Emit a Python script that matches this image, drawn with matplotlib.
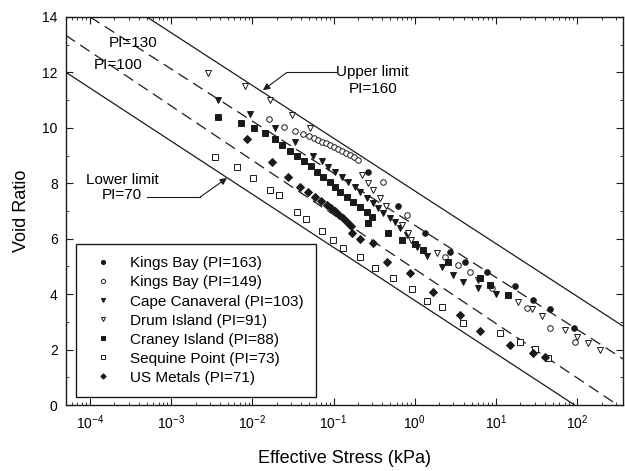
import numpy as np
import matplotlib
matplotlib.use("Agg")
import matplotlib.pyplot as plt
from matplotlib.ticker import (LogLocator, MultipleLocator, NullFormatter,
                               FixedLocator, LogFormatterSciNotation)

plt.rcParams['font.family'] = ['Liberation Sans', 'DejaVu Sans']
plt.rcParams['mathtext.fontset'] = 'custom'
plt.rcParams['mathtext.rm'] = 'Liberation Sans'
plt.rcParams['mathtext.it'] = 'Liberation Sans:italic'

# ---- data: log10(effective stress, kPa) and void ratio ----
kb163_logs = [-0.576, -0.207, 0.126, 0.433, 0.618, 0.889, 1.234, 1.456, 1.665, 1.960]
kb163_e = [8.40, 7.18, 6.20, 5.52, 5.16, 4.80, 4.29, 3.79, 3.46, 2.78]

kb149_logs = [-1.796, -1.611, -1.475, -1.377, -1.303, -1.241, -1.192, -1.143, -1.094,
              -1.044, -0.995, -0.946, -0.897, -0.847, -0.798, -0.749, -0.700, -0.392,
              -0.096, 0.372, 0.532, 0.680, 0.951, 1.382, 1.665, 1.973]
kb149_e = [10.31, 10.03, 9.88, 9.77, 9.70, 9.63, 9.56, 9.48, 9.45, 9.38, 9.30, 9.23,
           9.16, 9.09, 9.02, 8.94, 8.84, 8.04, 6.85, 5.34, 5.05, 4.80, 4.22, 3.50,
           2.78, 2.27]

cc_logs = [-2.424, -2.030, -1.722, -1.475, -1.254, -1.143, -1.069, -0.983, -0.897,
           -0.823, -0.737, -0.675, -0.589, -0.515, -0.453, -0.392, -0.305, -0.244,
           -0.182, -0.096, 0.027, 0.150, 0.335, 0.470, 0.593, 0.778, 1.000]
cc_e = [11.00, 10.49, 9.99, 9.48, 8.98, 8.80, 8.58, 8.40, 8.22, 8.04, 7.86, 7.68,
        7.46, 7.28, 7.10, 6.92, 6.74, 6.60, 6.38, 6.13, 5.70, 5.37, 4.98, 4.69, 4.44,
        4.22, 4.00]

di_logs = [-2.547, -2.091, -1.783, -1.512, -1.291, -0.650, -0.576, -0.515, -0.429,
           -0.355, -0.158, -0.084, -0.047, 0.273, 0.778, 1.271, 1.443, 1.566, 1.850,
           1.997, 2.133, 2.281]
di_e = [11.97, 11.50, 11.00, 10.46, 9.99, 8.29, 8.01, 7.75, 7.46, 7.18, 6.49, 6.20,
        5.95, 5.48, 4.51, 3.71, 3.46, 3.21, 2.70, 2.45, 2.24, 1.98]

ci_logs = [-2.424, -2.140, -1.980, -1.845, -1.722, -1.636, -1.537, -1.451, -1.365,
           -1.278, -1.204, -1.131, -1.044, -0.983, -0.921, -0.835, -0.761, -0.675,
           -0.589, -0.527, -0.576, -0.330, -0.158, 0.002, 0.101, 0.409, 0.803, 0.926,
           1.148]
ci_e = [10.39, 10.17, 9.99, 9.81, 9.59, 9.38, 9.16, 8.98, 8.80, 8.62, 8.40, 8.22,
        8.04, 7.86, 7.68, 7.50, 7.32, 7.14, 6.96, 6.78, 6.56, 6.20, 5.95, 5.81, 5.59,
        5.16, 4.58, 4.33, 3.97]

sp_logs = [-2.461, -2.190, -1.993, -1.783, -1.672, -1.451, -1.340, -1.143, -1.007,
           -0.884, -0.675, -0.490, -0.269, -0.035, 0.150, 0.335, 0.593, 1.049, 1.295,
           1.480, 1.640]
sp_e = [8.94, 8.58, 8.19, 7.75, 7.57, 6.96, 6.71, 6.27, 5.95, 5.66, 5.34, 4.94, 4.58,
        4.18, 3.75, 3.53, 2.96, 2.60, 2.27, 2.02, 1.69]

usm_logs = [-2.067, -1.759, -1.562, -1.414, -1.315, -1.229, -1.155, -1.081, -1.032,
            -0.983, -0.934, -0.884, -0.835, -0.786, -0.773, -0.675, -0.515, -0.342,
            -0.059, 0.224, 0.557, 0.803, 1.172, 1.456, 1.603]
usm_e = [9.59, 8.76, 8.22, 7.86, 7.68, 7.50, 7.36, 7.21, 7.10, 7.00, 6.85, 6.74, 6.60,
         6.46, 6.20, 5.99, 5.84, 5.16, 4.76, 4.07, 3.25, 2.67, 2.16, 1.88, 1.73]

# limit / PI lines: two end points each (log10 stress, void ratio)
upper_logs, upper_e = [-3.30, 2.59], [14.0, 2.80]      # PI=160
pi130_logs, pi130_e = [-4.00, 2.59], [14.0, 1.62]
pi100_logs, pi100_e = [-4.30, 2.50], [13.34, 0.0]
lower_logs, lower_e = [-4.30, 1.97], [12.01, 0.0]      # PI=70

labels = ["Kings Bay (PI=163)", "Kings Bay (PI=149)", "Cape Canaveral (PI=103)",
          "Drum Island (PI=91)", "Craney Island (PI=88)", "Sequine Point (PI=73)",
          "US Metals (PI=71)"]

x_decades = [1e-4, 1e-3, 1e-2, 1e-1, 1e0, 1e1, 1e2]

def s(v):
    return 10.0 ** np.asarray(v)

ink = '#1a1a1a'
fig = plt.figure(figsize=(6.25, 4.71), dpi=100)
ax = fig.add_axes([0.1056, 0.140, 0.891, 0.824])

lw_l = 0.9
ax.plot(s(upper_logs), upper_e, '-', color=ink, lw=lw_l)
ax.plot(s(pi130_logs), pi130_e, '--', color=ink, lw=lw_l, dashes=(9, 5))
ax.plot(s(pi100_logs), pi100_e, '--', color=ink, lw=lw_l, dashes=(9, 5))
ax.plot(s(lower_logs), lower_e, '-', color=ink, lw=lw_l)

ms = 4.0
series = [
    (kb163_logs, kb163_e, 'o', True),
    (kb149_logs, kb149_e, 'o', False),
    (cc_logs, cc_e, 'v', True),
    (di_logs, di_e, 'v', False),
    (ci_logs, ci_e, 's', True),
    (sp_logs, sp_e, 's', False),
    (usm_logs, usm_e, 'D', True),
]
for (xl, yv, mk, filled), lab in zip(series, labels):
    ax.plot(s(xl), yv, linestyle='none', marker=mk,
            markersize=ms if mk != 'D' else 3.6,
            markerfacecolor=ink if filled else 'white',
            markeredgecolor=ink, markeredgewidth=0.7, label=lab)

ax.set_xscale('log')
ax.set_xlim(5.06e-5, 366)
ax.set_ylim(0, 14)
ax.yaxis.set_major_locator(MultipleLocator(2))
ax.yaxis.set_minor_locator(MultipleLocator(1))
ax.xaxis.set_major_locator(FixedLocator(x_decades))
ax.xaxis.set_major_formatter(LogFormatterSciNotation())
ax.xaxis.set_minor_locator(LogLocator(base=10, subs=np.arange(2, 10), numticks=20))
ax.xaxis.set_minor_formatter(NullFormatter())
ax.tick_params(which='both', direction='in', top=True, right=True, color=ink)
ax.tick_params(which='major', length=5, width=0.8, labelsize=10, pad=6)
ax.tick_params(which='minor', length=2.5, width=0.6)
for sp in ax.spines.values():
    sp.set_linewidth(1.0)
    sp.set_color(ink)

ax.set_xlabel("Effective Stress (kPa)", fontsize=13, labelpad=13)
ax.set_ylabel("Void Ratio", fontsize=13, labelpad=9)

# annotations
fs_a = 11
ax.text(s(-3.47), 13.05, "PI=130", fontsize=fs_a, ha='center', va='center')
ax.text(s(-3.655), 12.26, "PI=100", fontsize=fs_a, ha='center', va='center')
ax.text(s(-3.606), 8.11, "Lower limit", fontsize=fs_a, ha='center', va='center')
ax.text(s(-3.606), 7.57, "PI=70", fontsize=fs_a, ha='center', va='center')
ax.plot(s([-3.30, -2.645]), [7.50, 7.50], color=ink, lw=0.8)
ax.annotate("", xy=(s(-2.313), 8.19), xytext=(s(-2.645), 7.50),
            arrowprops=dict(arrowstyle='-|>', color=ink, lw=0.8,
                            mutation_scale=10, shrinkA=0, shrinkB=0))
ax.text(s(-0.97), 12.0, "Upper limit", fontsize=fs_a, ha='left', va='center')
ax.text(s(-0.515), 11.39, "PI=160", fontsize=fs_a, ha='center', va='center')
ax.plot(s([-1.574, -0.97]), [12.0, 12.0], color=ink, lw=0.8)
ax.annotate("", xy=(s(-1.870), 11.36), xytext=(s(-1.574), 12.0),
            arrowprops=dict(arrowstyle='-|>', color=ink, lw=0.8,
                            mutation_scale=10, shrinkA=0, shrinkB=0))

leg = ax.legend(loc='lower left', bbox_to_anchor=(0.018, 0.021), fontsize=11,
                frameon=True, fancybox=False, edgecolor=ink, framealpha=1,
                handlelength=1.95, handletextpad=0.8, labelspacing=0.33,
                borderpad=0.8, borderaxespad=0, markerscale=0.75)
leg.get_frame().set_linewidth(1.0)

fig.savefig("out.png", dpi=100)
